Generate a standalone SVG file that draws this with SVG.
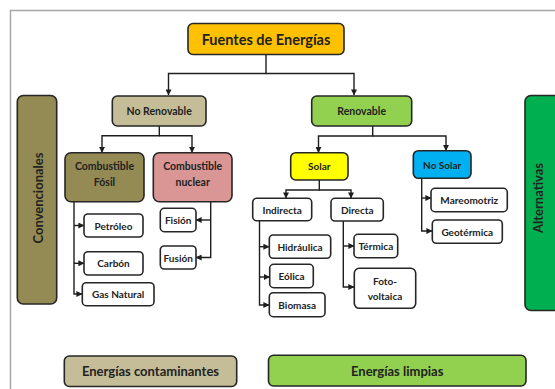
<svg xmlns="http://www.w3.org/2000/svg" width="555" height="389" viewBox="0 0 555 389">
<defs>
<marker id="ah" viewBox="0 0 8 8" refX="7.5" refY="4" markerWidth="6" markerHeight="6" markerUnits="userSpaceOnUse" orient="auto">
<path d="M0,0 L8,4 L0,8 z" fill="#1e1e1e"/>
</marker>
<style>
.b{stroke:#262626;stroke-width:1.6}
.w{fill:#ffffff}
.t{font-family:Lato,"Open Sans","Liberation Sans",sans-serif;font-weight:bold;fill:#222222;text-anchor:middle;dominant-baseline:central}
.s{font-size:10px}
.m{font-size:10.5px}
.l{font-size:13px}
.c{fill:none;stroke:#1e1e1e;stroke-width:1.4;marker-end:url(#ah)}
.n{fill:none;stroke:#1e1e1e;stroke-width:1.4}
</style>
</defs>
<rect width="555" height="389" fill="#ffffff"/>
<path d="M10.5,389 V10.5 H555" fill="none" stroke="#a6a6a6" stroke-width="1.5"/>

<g id="connectors">
<path class="c" d="M266,54 V73.5 H168.5 V95"/>
<path class="c" d="M266,73.5 H354 V95"/>
<path class="c" d="M159.3,126 V135.7 H102 V152.5"/>
<path class="c" d="M159.3,135.7 H192 V152.5"/>
<path class="c" d="M372.7,126 V136 H318.5 V152.5"/>
<path class="c" d="M372.7,136 H446 V150.5"/>
<path class="c" d="M74,201.7 V294 H82"/>
<path class="c" d="M74,225.5 H84"/>
<path class="c" d="M74,263.3 H84"/>
<path class="c" d="M210.7,201.7 V257.5 H196"/>
<path class="c" d="M210.7,220 H196"/>
<path class="c" d="M319.3,180 V190 H286 V198"/>
<path class="c" d="M319.3,190 H351 V198"/>
<path class="c" d="M259.5,220.7 V305 H269"/>
<path class="c" d="M259.5,246.7 H269"/>
<path class="c" d="M259.5,277 H269.5"/>
<path class="c" d="M343.3,221 V287 H354"/>
<path class="c" d="M343.3,246 H354"/>
<path class="c" d="M421.7,178.3 V231 H432"/>
<path class="c" d="M421.7,198 H431"/>
</g>

<g id="fuentes"><rect class="b" x="188" y="23.5" width="156" height="31" rx="5" fill="#ffc000"/><text class="t" x="266" y="39" font-size="14.5px">Fuentes de Energías</text></g>
<g id="no-renovable"><rect class="b" x="112.3" y="96" width="93.7" height="30" rx="5" fill="#c4bd97"/><text class="t m" x="159.2" y="111">No Renovable</text></g>
<g id="renovable"><rect class="b" x="311.7" y="96" width="100" height="30" rx="5" fill="#92d050"/><text class="t m" x="361.7" y="111">Renovable</text></g>

<g id="convencionales"><rect class="b" x="17.3" y="95.5" width="39.4" height="208.5" rx="6" fill="#948a54"/><text class="t l" transform="translate(37.5,198) rotate(-90)">Convencionales</text></g>
<g id="alternativas"><rect class="b" x="525" y="95.5" width="40" height="215" rx="6" fill="#00b050"/><text class="t l" transform="translate(537.5,198) rotate(-90)">Alternativas</text></g>

<g id="combustible-fosil"><rect class="b" x="65" y="152.7" width="79" height="49" rx="6" fill="#948a54"/><text class="t m" x="104.5" y="165.5">Combustible</text><text class="t m" x="104.5" y="182">Fósil</text></g>
<g id="combustible-nuclear"><rect class="b" x="153.3" y="152.7" width="78.7" height="49" rx="6" fill="#d99694"/><text class="t m" x="192.7" y="165.5">Combustible</text><text class="t m" x="192.7" y="182">nuclear</text></g>

<g id="petroleo"><rect class="b w" x="84" y="214" width="59" height="23" rx="4"/><text class="t s" x="113.5" y="225.5">Petróleo</text></g>
<g id="carbon"><rect class="b w" x="84" y="251.7" width="59" height="23.3" rx="4"/><text class="t s" x="113.5" y="263.3">Carbón</text></g>
<g id="gas-natural"><rect class="b w" x="82.3" y="282.7" width="71.7" height="23" rx="4"/><text class="t s" x="118.2" y="294.2">Gas Natural</text></g>
<g id="fision"><rect class="b w" x="160.3" y="208.3" width="35.7" height="23.4" rx="4"/><text class="t s" x="178.2" y="220">Fisión</text></g>
<g id="fusion"><rect class="b w" x="160.3" y="246" width="35.7" height="23" rx="4"/><text class="t s" x="178.2" y="257.5">Fusión</text></g>

<g id="solar"><rect class="b" x="290.7" y="152.7" width="57.3" height="27.3" rx="5" fill="#ffff00"/><text class="t s" x="319.3" y="166.3">Solar</text></g>
<g id="no-solar"><rect class="b" x="413.3" y="150.7" width="57.7" height="27.6" rx="5" fill="#00b0f0"/><text class="t s" x="442.2" y="164.5">No Solar</text></g>

<g id="indirecta"><rect class="b w" x="252.7" y="198.3" width="59" height="22.4" rx="4"/><text class="t s" x="282.2" y="209.5">Indirecta</text></g>
<g id="directa"><rect class="b w" x="331" y="198.3" width="52.3" height="22.7" rx="4"/><text class="t s" x="357.2" y="209.7">Directa</text></g>
<g id="hidraulica"><rect class="b w" x="269.3" y="235" width="61.4" height="23.3" rx="4"/><text class="t s" x="300" y="246.7">Hidráulica</text></g>
<g id="eolica"><rect class="b w" x="269.7" y="264.3" width="43.6" height="23.4" rx="4"/><text class="t s" x="291.5" y="276">Eólica</text></g>
<g id="biomasa"><rect class="b w" x="269.3" y="292.7" width="55.7" height="24" rx="4"/><text class="t s" x="297.2" y="304.7">Biomasa</text></g>
<g id="termica"><rect class="b w" x="354" y="234.3" width="43.7" height="23.4" rx="4"/><text class="t s" x="375.9" y="246">Térmica</text></g>
<g id="fotovoltaica"><rect class="b w" x="354.3" y="268.3" width="61.4" height="40" rx="5"/><text class="t s" x="385" y="280.5">Foto-</text><text class="t s" x="385" y="296">voltaica</text></g>
<g id="mareomotriz"><rect class="b w" x="431" y="188.3" width="76.3" height="23.4" rx="4"/><text class="t s" x="469.2" y="200">Mareomotriz</text></g>
<g id="geotermica"><rect class="b w" x="432.3" y="220" width="70" height="23.3" rx="4"/><text class="t s" x="467.3" y="231.7">Geotérmica</text></g>

<g id="energias-contaminantes"><rect class="b" x="64.3" y="356" width="172.4" height="30.5" rx="5" fill="#c4bd97"/><text class="t l" x="150.5" y="371.3">Energías contaminantes</text></g>
<g id="energias-limpias"><rect class="b" x="268.5" y="355.3" width="257.5" height="30.7" rx="5" fill="#92d050"/><text class="t l" x="397.2" y="370.7">Energías limpias</text></g>
</svg>
